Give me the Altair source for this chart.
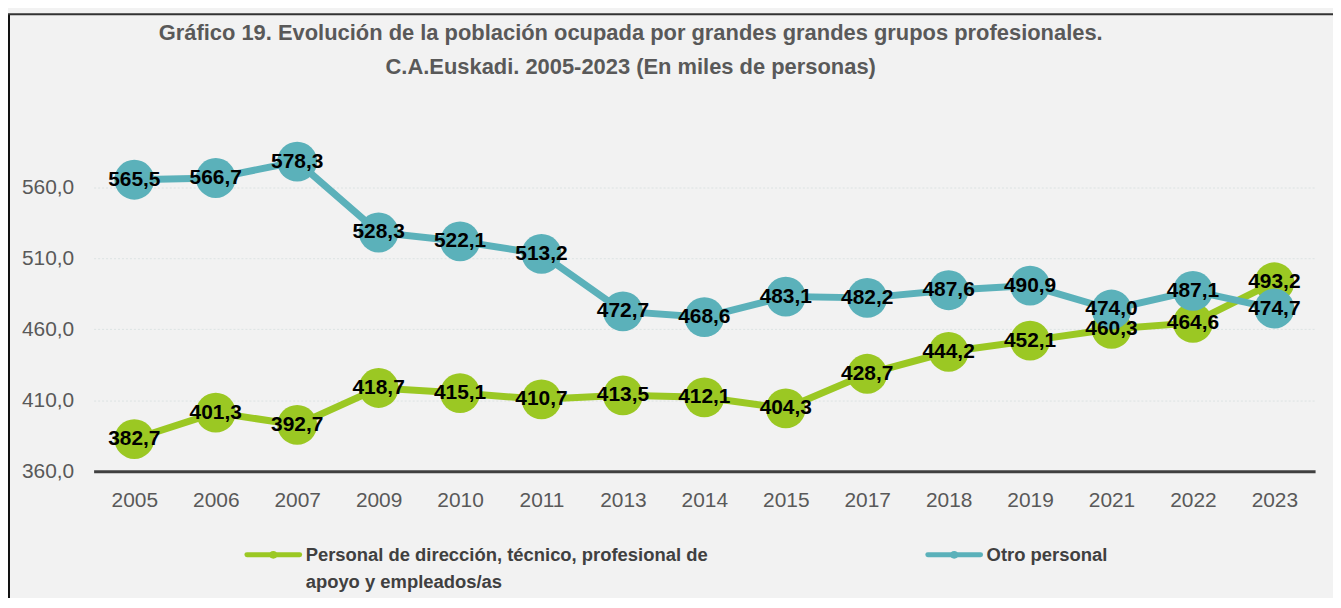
import altair as alt
import pandas as pd

years = ["2005", "2006", "2007", "2009", "2010", "2011", "2013", "2014",
         "2015", "2017", "2018", "2019", "2021", "2022", "2023"]
serie_a = "Personal de dirección, técnico, profesional de apoyo y empleados/as"
serie_b = "Otro personal"
vals_a = [382.7, 401.3, 392.7, 418.7, 415.1, 410.7, 413.5, 412.1,
          404.3, 428.7, 444.2, 452.1, 460.3, 464.6, 493.2]
vals_b = [565.5, 566.7, 578.3, 528.3, 522.1, 513.2, 472.7, 468.6,
          483.1, 482.2, 487.6, 490.9, 474.0, 487.1, 474.7]
y_ticks = [360, 410, 460, 510, 560]
title_lines = ["Gráfico 19. Evolución de la población ocupada por grandes grandes grupos profesionales.",
               "C.A.Euskadi.  2005-2023 (En miles de personas)"]
legend_a_lines = ["Personal de dirección, técnico, profesional de", "apoyo y empleados/as"]
legend_b_lines = ["Otro personal"]

rows = []
for yr, v in zip(years, vals_a):
    rows.append({"year": yr, "serie": serie_a, "v": v})
for yr, v in zip(years, vals_b):
    rows.append({"year": yr, "serie": serie_b, "v": v})
df = pd.DataFrame(rows)
one = pd.DataFrame({"k": [0]})

FONT = "Liberation Sans Narrow, Arial Narrow, sans-serif"
GREEN = "#9BC823"
BLUE = "#5BB1BA"

x = alt.X("year:N", sort=years,
          scale=alt.Scale(paddingInner=0, paddingOuter=0),
          axis=alt.Axis(title=None, labelAngle=0, ticks=False, grid=False,
                        domainColor="#404040", domainWidth=3,
                        labelFont=FONT, labelFontSize=21, labelColor="#595959",
                        labelPadding=18))
y = alt.Y("v:Q",
          scale=alt.Scale(domain=[360, 600], nice=False, zero=False),
          axis=alt.Axis(title=None, values=y_ticks, domain=False, ticks=False,
                        labelExpr="replace(format(datum.value, '.1f'), '.', ',')",
                        gridColor="#DCE3E3", gridDash=[2, 2], gridWidth=1,
                        labelFont=FONT, labelFontSize=21, labelColor="#595959",
                        labelPadding=20))

color = alt.Color("serie:N", scale=alt.Scale(domain=[serie_a, serie_b], range=[GREEN, BLUE]),
                  legend=None)

base = alt.Chart(df).encode(x=x, y=y)

layers = []
for s in [serie_a, serie_b]:
    f = alt.datum.serie == s
    layers.append(base.transform_filter(f).mark_line(strokeWidth=7).encode(color=color))
    layers.append(base.transform_filter(f).mark_circle(size=1600, opacity=1).encode(color=color))

text = base.transform_calculate(
    lbl="replace(format(datum.v, '.1f'), '.', ',')"
).mark_text(font=FONT, fontWeight="bold", fontSize=21, color="black").encode(text="lbl:N")
layers.append(text)

# legend (drawn below the plot, Excel style)
def legend_item(x0, col, lines):
    sym = alt.Chart(one).mark_rule(color=col, strokeWidth=5, strokeCap="round").encode(
        x=alt.value(x0), x2=alt.value(x0 + 53), y=alt.value(426))
    dot = alt.Chart(one).mark_circle(color=col, size=60, opacity=1).encode(
        x=alt.value(x0 + 26.5), y=alt.value(426))
    lab = alt.Chart(one).mark_text(text=lines, font=FONT, fontSize=18.5, fontWeight="bold",
                                   color="#404040", align="left", baseline="middle",
                                   lineHeight=27).encode(
        x=alt.value(x0 + 59), y=alt.value(426))
    return [sym, dot, lab]

layers += legend_item(154, GREEN, legend_a_lines)
layers += legend_item(838, BLUE, legend_b_lines)

frame_left = alt.Chart(one).mark_rule(color="#111111", strokeWidth=2).encode(
    x=alt.value(-85), y=alt.value(-117), y2=alt.value(470))
frame_top = alt.Chart(one).mark_rule(color="#333333", strokeWidth=2).encode(
    x=alt.value(-86), x2=alt.value(1250), y=alt.value(-117))
layers += [frame_left, frame_top]

chart = alt.layer(*layers).properties(
    width=1227, height=342,
    autosize=alt.AutoSizeParams(type="none"),
    padding={"left": 86, "top": 122, "right": 18, "bottom": 126},
    title=alt.Title(text=title_lines, font=FONT, fontSize=22, fontWeight="bold",
                    color="#595959", anchor="middle", dx=-74, lineHeight=34, offset=-66),
).configure(background="#F2F2F2").configure_view(stroke=None)

chart.save("out.html", embed_options={"renderer": "svg", "actions": False})
